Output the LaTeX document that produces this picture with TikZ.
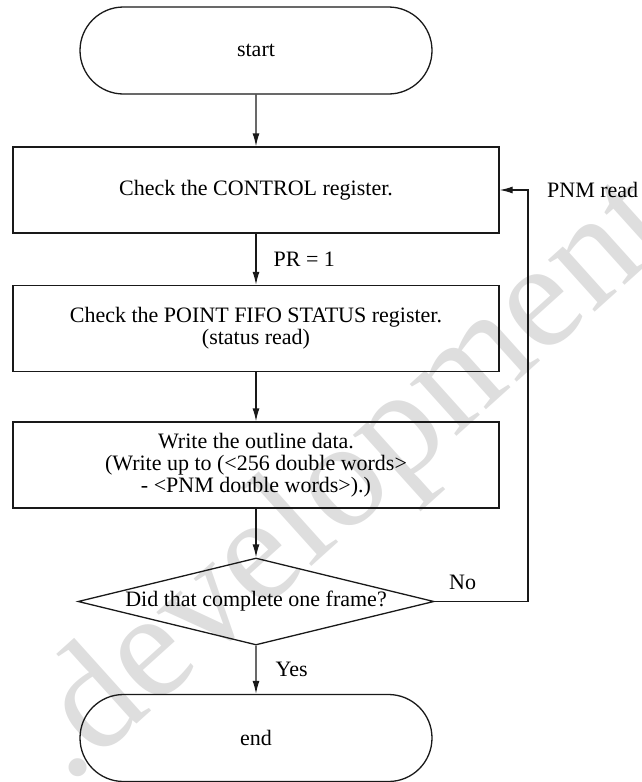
\documentclass[tikz,border=0pt]{standalone}
\usepackage{fontspec}
\setmainfont{Liberation Serif}
\usetikzlibrary{arrows.meta,shapes.geometric,shapes.misc}

\begin{document}
\begin{tikzpicture}[x=1pt,y=-1pt,
  every node/.style={font=\fontsize{22}{22}\selectfont},
  line/.style={line width=1.3pt, draw=black!90},
  term/.style={line, rounded rectangle, minimum width=352pt, minimum height=87pt, inner sep=0pt},
  proc/.style={line, rectangle, minimum width=486pt, minimum height=86pt, align=center, inner sep=0pt},
  decision/.style={line, diamond, aspect=4.09, minimum width=356pt, minimum height=87pt, inner sep=0pt},
  flow/.style={line, -{Latex[length=13pt,width=7pt]}},
  lbl/.style={inner sep=0pt}
]
\useasboundingbox (0,0) rectangle (641,782);

% faint background watermark
\begin{scope}
  \clip (0,0) rectangle (641,782);
  \node[text=black!13, font=\fontsize{152}{152}\selectfont, rotate=42,
        anchor=base west, inner sep=0pt] (wm) at (68,786) {.development};
\end{scope}

% flow steps
\node[term] (start) at (256,50.5) {start};
\node[proc] (ctrl) at (256,190) {Check the CONTROL register.};
\node[proc] (fifo) at (256,328.5) {Check the POINT FIFO STATUS register.\\(status read)};
\node[proc] (write) at (256,465) {Write the outline data.\\(Write up to (<256 double words>\\- <PNM double words>).)};
\node[decision] (done) at (256,601.5) {Did that complete one frame?};
\node[term] (end) at (256,738) {end};

% side note and loop corner
\node[lbl, anchor=west] (pnm) at (547,190) {PNM read};
\coordinate (loop) at (528,190);

% connectors
\draw[flow] (start) -- (ctrl);
\draw[flow] (ctrl) -- node[lbl, midway, anchor=west, xshift=17pt] (pr) {PR = 1} (fifo);
\draw[flow] (fifo) -- (write);
\draw[flow] (write) -- (done);
\draw[flow] (done) -- node[lbl, midway, anchor=west, xshift=19pt] (yes) {Yes} (end);
\draw[flow] (done.east) -- node[lbl, pos=0.3, above, yshift=11pt] (no) {No} (done.east -| loop) -- (loop) -- (ctrl.east);
\end{tikzpicture}
\end{document}
